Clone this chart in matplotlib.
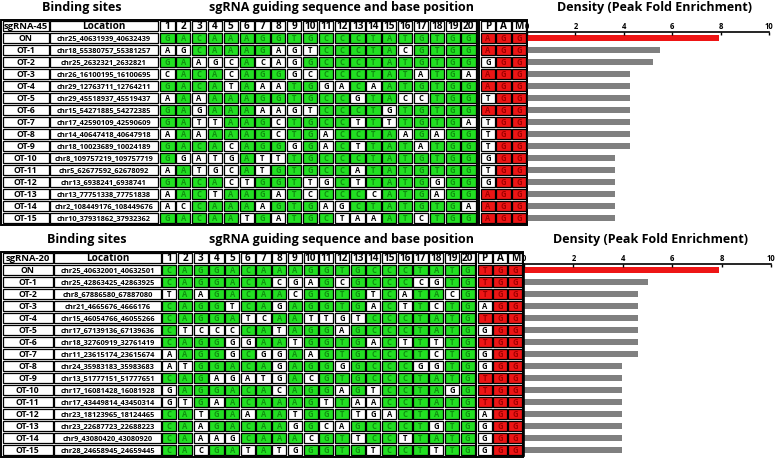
import numpy as np
import matplotlib.pyplot as plt
from matplotlib.patches import Rectangle

plt.rcParams['font.family'] = ['Open Sans', 'DejaVu Sans']

names = ['ON'] + ['OT-%d' % i for i in range(1, 16)]
positions = [str(i) for i in range(1, 21)]
pam_head = ['P', 'A', 'M']

# sgRNA-45
loc45 = ['chr25_40631939_40632439', 'chr18_55380757_55381257', 'chr25_2632321_2632821',
         'chr26_16100195_16100695', 'chr29_12763711_12764211', 'chr29_45518937_45519437',
         'chr15_54271885_54272385', 'chr17_42590109_42590609', 'chr14_40647418_40647918',
         'chr18_10023689_10024189', 'chr8_109757219_109757719', 'chr5_62677592_62678092',
         'chr13_6938241_6938741', 'chr13_77751338_77751838', 'chr2_108449176_108449676',
         'chr10_37931862_37932362']
seq45 = ['GACAAAGGTGCCCTATGTGG', 'AGCAAAGAGTCCCTACGTGG', 'GAAGCACAGGCCCTATGTGG',
         'CACACAGGGCCCCTATATGA', 'GACATAAATGGACAATGTGG', 'AAAAAAGGTGCCGTACCTGG',
         'GAGAAAAAGTCCCTGTGTGG', 'GATTAAGCTGCCTTTTGTGA', 'AAAAAAGCTGACCTAAGAGG',
         'GACACAGGGGACTTATATGG', 'GGATGATTTGCCCTATGTGG', 'AATGCATGTGCCATATGTGG',
         'GACACTGGTTGCTTATGGGG', 'AACTAAGATCCCCCATGAGG', 'ACCAAAAGTGAGCTATGTGA',
         'GACAATGATGCTAAATCTGG']
pam45 = ['AGG', 'AGG', 'GGG', 'AGG', 'AGG', 'TGG', 'AGG', 'TGG', 'TGG', 'TGG',
         'GGG', 'TGG', 'GGG', 'AGG', 'AGG', 'AGG']
dens45 = [7.92, 5.48, 5.22, 4.27, 4.27, 4.27, 4.27, 4.27, 4.27, 4.27,
          3.65, 3.65, 3.65, 3.65, 3.65, 3.65]

# sgRNA-20
loc20 = ['chr25_40632001_40632501', 'chr25_42863425_42863925', 'chr8_67886580_67887080',
         'chr21_4665676_4666176', 'chr15_46054766_46055266', 'chr17_67139136_67139636',
         'chr18_32760919_32761419', 'chr11_23615174_23615674', 'chr24_35983183_35983683',
         'chr13_51777151_51777651', 'chr17_16081428_16081928', 'chr17_43449814_43450314',
         'chr23_18123965_18124465', 'chr23_22687723_22688223', 'chr9_43080420_43080920',
         'chr28_24658945_24659445']
seq20 = ['CAGGACAAAGGTGCCCTATG', 'CAGGACACGAGCGCCCCGTG', 'TAAGACAACGGTGTCATACG',
         'CAGGTCAGAGGTGACTTCTG', 'CAGGATCAATTGTCCCTATG', 'CTCCCCATAGGAGCCCTATG',
         'CAGGGGAATGGTGACTTTTG', 'AAGGGCGGAAGTGCCCTCTG', 'ATGGACAGAGGGGCCCGGTG',
         'CAGAGATGACGTGCCCTATG', 'GAGGACACAGGAGTCCTAGG', 'GTGAACAAAGTTAACCTATG',
         'CATGAAAATGGTTGACTATG', 'CAAGACAAGGCAGCCCTGTG', 'CAAAGCAAACGTTCCTTATG',
         'CACGATATGGGTGTCCTTTG']
pam20 = ['TGG', 'TGG', 'TGG', 'AGG', 'TGG', 'GGG', 'TGG', 'GGG', 'GGG', 'TGG',
         'TGG', 'TGG', 'AGG', 'GGG', 'GGG', 'GGG']
dens20 = [7.88, 5.01, 4.60, 4.60, 4.60, 4.60, 4.60, 4.60,
          3.95, 3.95, 3.95, 3.95, 3.95, 3.95, 3.95, 3.95]

GREEN = '#22e022'
GREEN_TXT = '#119011'
RED = '#ee1515'
RED_TXT = '#a00000'
GRAY = '#808080'

W, H = 778, 458
fig = plt.figure(figsize=(W / 100, H / 100), dpi=100)
canvas = fig.add_axes([0, 0, 1, 1])
canvas.set_xlim(0, W)
canvas.set_ylim(H, 0)
canvas.axis('off')


def cell(x0, x1, y0, y1, txt, fc='white', tc='black', fs=5.5):
    canvas.add_patch(Rectangle((x0 + 0.8, y0 + 0.8), x1 - x0 - 1.6, y1 - y0 - 1.6,
                               fc=fc, ec='black', lw=0.9))
    canvas.text((x0 + x1) / 2, (y0 + y1) / 2 + 0.3, txt, ha='center', va='center',
                fontsize=fs, color=tc, fontweight='bold')


def panel(label, locs, seqs, pams, dens, top, rowh, xs, title_y, titles_x):
    name_x, loc_x, pos_x, pam_x, bar_x = xs
    pw = (pos_x[1] - pos_x[0]) / 20
    mw = (pam_x[1] - pam_x[0]) / 3
    # titles
    canvas.text(titles_x[0], title_y, 'Binding sites', ha='center', va='center',
                fontsize=9, fontweight='bold')
    canvas.text(titles_x[1], title_y, 'sgRNA guiding sequence and base position',
                ha='center', va='center', fontsize=9, fontweight='bold')
    canvas.text(titles_x[2], title_y, 'Density (Peak Fold Enrichment)', ha='center',
                va='center', fontsize=9, fontweight='bold')
    # header row
    y0, y1 = top, top + rowh
    cell(name_x[0], name_x[1], y0, y1, label, fs=6.8)
    cell(loc_x[0], loc_x[1], y0, y1, 'Location', fs=7.2)
    for j, p in enumerate(positions):
        cell(pos_x[0] + j * pw, pos_x[0] + (j + 1) * pw, y0, y1, p, fs=7.2)
    for j, p in enumerate(pam_head):
        cell(pam_x[0] + j * mw, pam_x[0] + (j + 1) * mw, y0, y1, p, fs=7.2)
    ref, ref_pam = seqs[0], pams[0]
    for i in range(len(names)):
        y0 = top + (i + 1) * rowh
        y1 = y0 + rowh
        cell(name_x[0], name_x[1], y0, y1, names[i], fs=6.2)
        cell(loc_x[0], loc_x[1], y0, y1, locs[i], fs=5.3)
        for j, b in enumerate(seqs[i]):
            hit = b == ref[j]
            cell(pos_x[0] + j * pw, pos_x[0] + (j + 1) * pw, y0, y1, b,
                 GREEN if hit else 'white', GREEN_TXT if hit else 'black')
        for j, b in enumerate(pams[i]):
            hit = b == ref_pam[j]
            cell(pam_x[0] + j * mw, pam_x[0] + (j + 1) * mw, y0, y1, b,
                 RED if hit else 'white', RED_TXT if hit else 'black')
    bottom = top + (len(names) + 1) * rowh
    canvas.add_patch(Rectangle((name_x[0] - 0.5, top - 0.5), pos_x[1] - name_x[0] + 1,
                               bottom - top + 1, fill=False, ec='black', lw=1.4))
    canvas.add_patch(Rectangle((pam_x[0] - 0.5, top - 0.5), pam_x[1] - pam_x[0] + 1,
                               bottom - top + 1, fill=False, ec='black', lw=1.4))
    # bars
    ax = fig.add_axes([bar_x[0] / W, 1 - bottom / H, (bar_x[1] - bar_x[0]) / W,
                       (bottom - top - rowh) / H])
    yy = np.arange(len(dens))
    colors = [RED] + [GRAY] * (len(dens) - 1)
    ax.barh(yy, dens, height=0.55, color=colors)
    ax.set_xlim(0, 10)
    ax.set_ylim(len(dens) - 0.5, -0.5)
    ax.set_xticks([0, 2, 4, 6, 8, 10])
    ax.xaxis.tick_top()
    ax.tick_params(axis='x', direction='in', length=2.5, width=1, pad=1, labelsize=5.5)
    for t in ax.get_xticklabels():
        t.set_fontweight('bold')
    ax.set_yticks([])
    ax.spines['right'].set_visible(False)
    ax.spines['bottom'].set_visible(False)
    ax.spines['top'].set_linewidth(1.2)
    ax.spines['left'].set_linewidth(1.2)
    ax.patch.set_alpha(0)


panel('sgRNA-45', loc45, seq45, pam45, dens45, 20, 12.0,
      [(2, 49.5), (49.5, 158.5), (159.5, 476.5), (480, 527), (527, 769)],
      7, (82, 342, 655))
panel('sgRNA-20', loc20, seq20, pam20, dens20, 252, 12.0,
      [(2, 53.5), (53.5, 161.5), (161.5, 475.5), (477, 523), (524, 771)],
      239, (87, 342, 651))

fig.savefig('out.png', dpi=100)
